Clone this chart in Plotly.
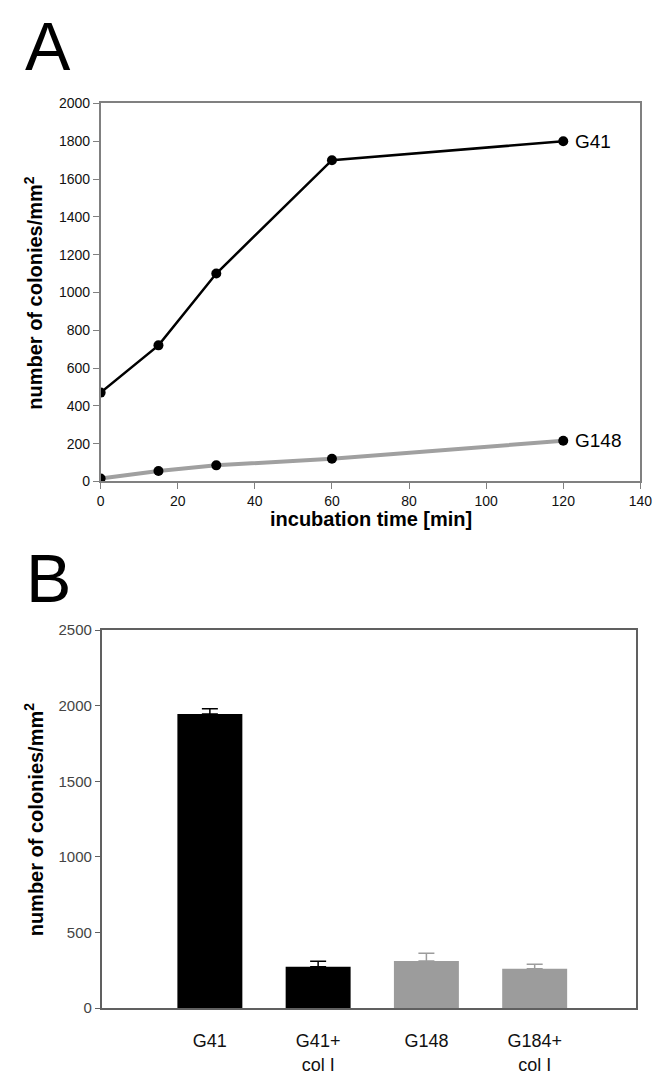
import plotly.graph_objects as go

# Panel A data
time_min = [0, 15, 30, 60, 120]
g41_counts = [470, 720, 1100, 1700, 1800]
g148_counts = [15, 55, 85, 120, 215]

# Panel B data
black_labels = ["G41", "G41+<br>col I"]
black_values = [1945, 273]
black_errors = [35, 37]
grey_labels = ["G148", "G184+<br>col I"]
grey_values = [312, 260]
grey_errors = [50, 30]

FONT = "Liberation Sans, Arial, sans-serif"
NARROW = "Liberation Sans Narrow, Liberation Sans, Arial, sans-serif"

fig = go.Figure()

fig.add_trace(go.Scatter(
    x=time_min, y=g41_counts, mode="lines+markers",
    line=dict(color="#000000", width=2.5),
    marker=dict(color="#000000", size=10),
    xaxis="x", yaxis="y", showlegend=False))
fig.add_trace(go.Scatter(
    x=time_min, y=g148_counts, mode="lines+markers",
    line=dict(color="#a0a0a0", width=4),
    marker=dict(color="#000000", size=10),
    xaxis="x", yaxis="y", showlegend=False))

fig.add_trace(go.Bar(
    x=black_labels, y=black_values,
    marker=dict(color="#000000", line=dict(width=0)),
    width=0.6,
    error_y=dict(type="data", array=black_errors, arrayminus=[0, 0], symmetric=False,
                 color="#000000", thickness=1.5, width=8),
    xaxis="x2", yaxis="y2", showlegend=False))
fig.add_trace(go.Bar(
    x=grey_labels, y=grey_values,
    marker=dict(color="#9c9c9c", line=dict(width=0)),
    width=0.6,
    error_y=dict(type="data", array=grey_errors, arrayminus=[0, 0], symmetric=False,
                 color="#9c9c9c", thickness=1.5, width=8),
    xaxis="x2", yaxis="y2", showlegend=False))

fig.update_layout(
    width=668, height=1081,
    margin=dict(l=0, r=0, t=0, b=0),
    paper_bgcolor="white", plot_bgcolor="white",
    barmode="overlay",
    font=dict(family=FONT, color="#000000"),
    xaxis=dict(domain=[0.1482, 0.976], range=[0, 140], tickvals=list(range(0, 141, 20)),
               showline=True, linecolor="#808080", linewidth=1.5, mirror=True,
               ticks="outside", ticklen=6, tickcolor="#808080", showgrid=False, zeroline=False,
               tickfont=dict(size=14, family=FONT, color="#111111"), anchor="y"),
    yaxis=dict(domain=[0.556, 0.9112], range=[0, 2000], tickvals=list(range(0, 2001, 200)),
               showline=True, linecolor="#808080", linewidth=1.5, mirror=True,
               ticks="outside", ticklen=6, tickcolor="#808080", showgrid=False, zeroline=False,
               tickfont=dict(size=14, family=FONT, color="#111111"), anchor="x"),
    xaxis2=dict(domain=[0.1497, 0.970], range=[-1, 3.94], type="category",
                categoryorder="array", categoryarray=black_labels + grey_labels,
                showline=True, linecolor="#606060", linewidth=1.5, mirror=True,
                ticks="", showgrid=False, zeroline=False, ticklabelstandoff=16,
                tickfont=dict(size=18, family=NARROW, color="#111111"), anchor="y2"),
    yaxis2=dict(domain=[0.061, 0.4163], range=[0, 2500], tickvals=list(range(0, 2501, 500)),
                showline=True, linecolor="#606060", linewidth=1.5, mirror=True,
                ticks="outside", ticklen=5, tickcolor="#606060", showgrid=False, zeroline=False,
                tickfont=dict(size=15, family=NARROW, color="#444444"), anchor="x2"),
)

ann = [
    dict(text="A", x=45, y=38, font=dict(size=68, family=FONT)),
    dict(text="B", x=46, y=578, font=dict(size=68, family=FONT)),
    dict(text="<b>number of colonies/mm<sup>2</sup></b>", x=30, y=288, textangle=-90,
         font=dict(size=20, family=FONT)),
    dict(text="<b>incubation time [min]</b>", x=376, y=518, font=dict(size=20, family=FONT)),
    dict(text="<b>number of colonies/mm<sup>2</sup></b>", x=30, y=823, textangle=-90,
         font=dict(size=20, family=FONT)),
]
for a in ann:
    fig.add_annotation(text=a["text"], x=a["x"] / 668, y=1 - a["y"] / 1081,
                       xref="paper", yref="paper", showarrow=False,
                       textangle=a.get("textangle", 0), font=a["font"],
                       xanchor="center", yanchor="middle")

fig.add_annotation(text="G41", x=time_min[-1], y=g41_counts[-1], xref="x", yref="y",
                   showarrow=False, xanchor="left", xshift=10, font=dict(size=19, family=FONT))
fig.add_annotation(text="G148", x=time_min[-1], y=g148_counts[-1], xref="x", yref="y",
                   showarrow=False, xanchor="left", xshift=10, font=dict(size=19, family=FONT))

fig.write_html("out.html", config={"displayModeBar": False},
               post_script="document.body.style.margin='0';")
